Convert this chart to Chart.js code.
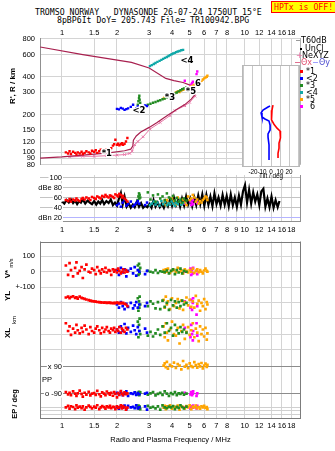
<!DOCTYPE html>
<html><head><meta charset="utf-8">
<script src="https://cdn.jsdelivr.net/npm/chart.js@4.4.1/dist/chart.umd.min.js"></script>
<style>
html,body{margin:0;padding:0;background:#fff;}
body{width:335px;height:451px;position:relative;overflow:hidden;font-family:"Liberation Sans",Arial,sans-serif;}
canvas{position:absolute;}
.t{position:absolute;white-space:pre;line-height:1;color:#000;}
.r{position:absolute;white-space:pre;line-height:1;color:#000;transform:translate(-50%,-50%) rotate(-90deg);}
.mono{font-family:"DejaVu Sans Mono",monospace;font-size:8.2px;}
.lg{font-family:"DejaVu Sans",sans-serif;font-size:8px;}
.sq{position:absolute;width:3px;height:3px;}
.ln{position:absolute;height:1px;}
</style></head><body>
<div class="t mono" style="left:35px;top:8px">TROMSO NORWAY   DYNASONDE 26-07-24 1750UT 15°E</div>
<div class="t mono" style="left:57px;top:15.5px">8pBP6It DoY= 205.743 File= TR100942.BPG</div>
<div class="t mono" style="left:271px;top:1px;width:61px;height:10px;background:#ffff00;border:1px solid #ff0000;color:#ff0000;padding-left:2px;line-height:10px">HPTx is OFF!</div>

<canvas id="cA" width="335" height="154" style="left:0;top:20px"></canvas>
<canvas id="cB" width="335" height="66" style="left:0;top:170px"></canvas>
<canvas id="cC" width="335" height="219" style="left:0;top:232px"></canvas>
<canvas id="cD" width="64" height="117" style="left:240px;top:63px"></canvas>

<div class="r" style="left:13px;top:86px;font-size:8px;font-weight:bold">R', R / km</div>
<div class="r" style="left:8px;top:274px;font-size:8px;font-weight:bold">V*</div>
<div class="r" style="left:12px;top:263px;font-size:5.5px">m/s</div>
<div class="r" style="left:8px;top:296px;font-size:8px;font-weight:bold">YL</div>
<div class="r" style="left:14px;top:320px;font-size:6px">km</div>
<div class="r" style="left:8px;top:333px;font-size:8px;font-weight:bold">XL</div>
<div class="r" style="left:15px;top:404px;font-size:7.5px;font-weight:bold">EP / deg</div>
<div class="t" style="left:42px;top:376px;font-size:7.5px">PP</div>

<div class="ln" style="left:296px;top:40px;width:4px;background:#999"></div>
<div class="t lg" style="left:301px;top:36.5px">T60dB</div>
<div class="sq" style="left:300px;top:48px;width:1.5px;height:1.5px;background:#000"></div>
<div class="t lg" style="left:305px;top:44.5px">UnCl</div>
<div class="t lg" style="left:296px;top:51.5px;color:#e878a8">+</div>
<div class="t lg" style="left:302px;top:51.5px">NeXYZ</div>
<div class="ln" style="left:295px;top:62px;width:5px;background:#e07090"></div>
<div class="t lg" style="left:301px;top:58.5px;color:#e05070">Θx</div>
<div class="ln" style="left:313px;top:62px;width:5px;background:#a0a0ff"></div>
<div class="t lg" style="left:319px;top:58.5px;color:#5050d0">Θy</div>
<div class="sq" style="left:300px;top:70px;background:#ff0000"></div><div class="t lg" style="left:306px;top:67.5px">*1</div>
<div class="sq" style="left:300px;top:77px;background:#0000ff"></div><div class="t lg" style="left:306px;top:74.5px">&lt;2</div>
<div class="sq" style="left:300px;top:84px;background:#228b22"></div><div class="t lg" style="left:306px;top:81.5px">*3</div>
<div class="sq" style="left:300px;top:91px;background:#10a8a8"></div><div class="t lg" style="left:306px;top:88.5px">&lt;4</div>
<div class="sq" style="left:300px;top:98px;background:#ffa500"></div><div class="t lg" style="left:306px;top:95.5px">*5</div>
<div class="sq" style="left:300px;top:105px;background:#ff00ff"></div><div class="t lg" style="left:310px;top:102.5px">6</div>

<script>
// ---------- axis ticks ----------
const freqTicks = [1, 1.5, 2, 3, 4, 5, 6, 7, 8, 10, 12, 14, 16, 18];
const freqTicksDb = [1, 1.5, 2, 3, 4, 5, 6, 7, 8, 9, 10, 12, 14, 16, 18];
const heightTicks = [80, 90, 100, 120, 150, 200, 300, 400, 600, 800];
const dbTicks = [20, 40, 60, 80, 100];
const dbTickLabels = ['dBn 20', '40', '60', 'dBe 80', '100'];
const tiltTicks = [-30, -20, -10, 0, 10, 20, 30];
const tiltTickLabels = ['', '-20', '-10', '0', '10', '20', ''];
const vTicks = [100, 0, -100];      const vTickLabels = ['100', '0', '+-100'];
const ylTicks = [0, -100];          const ylTickLabels = ['0', '+-100'];
const xlTicks = [0, -100];          const xlTickLabels = ['0', '-100'];
const ppTicks = [90, -90];          const ppTickLabels = ['x 90', 'o -90'];
const epTicks = [10, 1, 0.1];       const epTickLabels = ['10.', '', '0.1'];

// ---------- echo traces (frequency MHz, virtual height km, amplitude dB, V*, YL, XL, PP, EP) ----------
const redF  = [1.05,1.08,1.1,1.12,1.15,1.18,1.2,1.22,1.25,1.28,1.3,1.33,1.36,1.4,1.43,1.46,1.5,1.53,1.56,1.6,1.63,1.66,1.7,1.73,1.76,1.8,1.83,1.86,1.9,1.93,1.96,2.0,2.03,2.06,2.1,2.13,2.16,2.2,2.24,2.28];
const redH  = [100,98,102,97,101,99,96,100,98,101,97,99,102,100,98,103,101,104,99,102,105,103,101,106,104,102,105,108,113,116,126,115,117,114,116,118,115,117,122,130];
const redDb = [55,53,57,52,56,54,58,55,53,57,59,56,60,58,55,61,59,57,62,60,58,63,61,65,62,60,64,63,61,59,66,64,62,67,65,60,63,58,55,52];
const redV  = [40,-20,55,10,-30,25,60,-10,5,30,-40,15,45,0,-5,20,10,-15,30,5,-10,15,0,25,-5,10,5,-20,15,0,10,-5,20,5,-10,0,15,-5,10,0];
const redYL = [35,40,30,38,42,33,36,28,40,32,30,26,22,18,15,12,10,8,6,5,4,3,2,3,1,2,0,1,-2,0,-1,2,0,-3,0,-2,0,-5,-10,-20];
const redXL = [70,20,50,-5,35,10,60,25,5,40,15,55,30,0,45,20,10,35,50,25,5,40,15,30,45,20,10,35,25,40,15,30,20,45,10,35,25,15,40,30];
const redPP = [-80,-95,-85,-100,-75,-90,-105,-88,-70,-92,-110,-84,-96,-78,-102,-90,-86,-98,-72,-94,-108,-82,-90,-100,-76,-88,-96,-84,-104,-80,-92,-115,-86,-98,-74,-90,-100,-82,-94,-88];
const redEP = [10,25,4,20,12,3,35,8,15,6,18,2,9,30,13,5,16,8,40,3,9,22,11,4,19,10,28,6,14,12,3,20,7,9,35,5,24,10,2,8];

const blueF  = [2.0,2.05,2.1,2.15,2.2,2.25,2.3,2.38,2.45,2.5,2.55,2.6,2.65,2.85,2.92];
const blueH  = [222,220,226,223,218,221,224,230,239,215,225,232,228,236,234];
const blueDb = [45,48,42,50,55,44,47,52,43,46,49,53,48,45,50];
const blueV  = [10,-20,25,-5,15,-30,5,20,-10,30,-25,10,0,-15,5];
const blueYL = [-10,-30,5,-20,-40,-5,-25,0,-35,-15,5,-30,-10,-20,0];
const blueXL = [30,10,50,20,65,5,40,15,55,25,0,45,20,35,10];
const bluePP = [-85,-95,-80,-100,-90,-75,-105,-88,-92,-82,-98,-86,-94,-90,-84];
const blueEP = [12,4,20,8,30,3,25,9,14,6,35,5,10,18,2];

const greenF  = [2.6,2.62,2.64,2.65,2.66,2.68,2.95,3.05,3.15,3.25,3.35,3.45,3.55,3.65,3.75,3.85,3.95,4.05,4.15,4.25,4.35,4.45,4.55,4.65,4.8];
const greenH  = [240,255,270,282,262,248,240,244,248,252,256,260,265,268,272,278,283,290,295,300,306,312,318,322,330];
const greenDb = [55,62,68,58,65,60,70,56,64,52,66,58,62,55,68,60,57,63,54,59,52,56,50,58,54];
const greenV  = [40,-20,50,10,-10,25,5,0,-5,10,-8,3,0,-3,8,-10,5,15,-15,10,-5,20,-10,5,0];
const greenYL = [30,-50,10,-30,40,-10,-20,10,-5,-35,5,-40,15,-25,0,-45,20,-15,10,-30,5,-20,15,-10,0];
const greenXL = [80,-20,60,20,100,0,-10,15,-15,5,30,-5,50,10,70,20,40,-10,60,25,5,45,15,30,10];
const greenPP = [-85,-95,-78,-100,-90,-82,-96,-88,-80,-102,-92,-85,-98,-75,-90,-105,-86,-94,-80,-100,-88,-92,-84,-96,-90];
const greenEP = [10,30,4,20,12,3,25,8,14,5,18,2,35,9,6,16,10,22,3,13,7,40,12,5,15];

const tealF  = [3.03,3.1,3.18,3.25,3.33,3.42,3.5,3.58,3.66,3.75,3.83,3.9,3.98,4.06,4.14,4.22,4.3,4.4,4.5,4.6];
const tealH  = [486,495,505,515,525,535,545,555,565,575,585,595,605,612,620,628,635,642,650,655];
const tealDb = [45,48,52,46,50,44,53,47,51,45,49,46,52,48,44,50,47,53,46,49];

const orangeF  = [3.6,3.65,3.7,3.75,3.8,3.9,4.0,4.1,4.2,4.3,4.4,4.5,4.6,4.7,4.8,4.9,5.0,5.1,5.2,5.3,5.4,5.5,5.6,5.7,5.8,5.9,6.0,6.1,6.2,6.25];
const orangeH  = [268,275,272,280,285,290,295,292,300,305,302,310,315,318,322,320,328,335,340,345,350,355,360,368,372,380,388,395,400,408];
const orangeDb = [48,52,45,55,50,47,58,53,46,60,52,48,56,50,45,62,55,58,65,60,52,56,48,53,50,55,58,62,60,55];
const orangeV  = [10,-5,15,0,20,-8,5,12,-3,25,0,8,-10,15,5,-5,10,0,20,-8,5,15,-3,10,0,-10,8,20,5,0];
const orangeYL = [20,-30,40,-10,10,-40,30,-20,0,25,-35,15,-45,5,35,-15,20,-25,10,-30,45,-5,15,-50,0,-20,25,-40,5,-10];
const orangeXL = [50,-20,70,10,-40,30,80,0,-10,40,-60,20,60,-30,15,45,-5,25,70,-20,35,10,-45,50,0,30,-15,40,-35,5];
const orangePP = [95,110,85,120,75,100,90,115,80,105,95,70,125,88,100,78,110,92,85,118,98,82,105,90,112,76,95,108,86,100];
const orangeEP = [8,25,3,20,10,40,4,15,9,30,2,18,11,5,22,10,35,3,16,9,30,6,12,4,20,10,28,7,11,3];

const magF  = [4.7,5.05,5.1,5.15,5.2,5.22,5.45,5.5];
const magH  = [372,335,345,355,365,330,420,440];
const magDb = [48,52,45,50,55,47,53,49];
const magV  = [0,20,-20,10,-10,25,5,-15];
const magYL = [10,-30,20,-45,0,30,-75,-20];
const magXL = [40,-20,60,0,-40,20,70,-10];
const magPP = [-85,-95,-80,-100,-90,-75,-105,-88];
const magEP = [10,4,15,20,8,30,5,25];

// ---------- profile / NeXYZ / tilts / unclassified amplitude ----------
const profileF = [0.76,1.0,1.3,1.8,2.2,2.38,2.44,2.46,2.55,2.7,3.0,3.3,3.6,3.9,4.3,4.7,5.1,5.35,5.35,5.1,4.6,4.1,3.7,3.0,2.4,1.3,0.76];
const profileH = [90,92,95,99,103,106,112,125,135,145,158,172,188,203,222,240,265,290,320,340,360,372,388,470,520,600,690];
const nexF = [1.1,1.3,1.5,1.75,2.0,2.2,2.35,2.42,2.5,2.6,2.78,3.03,3.45,3.9,4.15,4.7,5.0,5.35];
const nexH = [92,93,93,94,95,96,98,102,115,122,133,153,173,196,215,235,250,280];
const tiltX  = [2.2,1.1,0,1.1,3.3,6.7,10,11,10,8.9,8.9,7.8,7.8];
const tiltXH = [247,226,207,190,176,164,156,148,138,126,115,105,96.5];
const tiltY  = [-1.1,-3.3,-8.9,-11,-10,-6.7,-2.2,-1,-1,-3.3,-3.3,-2.2,-2.2,-2.2];
const tiltYH = [243,239,226,215,200,193,186,173,159,148,140,122,107,93];
const ucF = [1.00,1.03,1.06,1.09,1.12,1.15,1.18,1.21,1.24,1.27,
  1.30,1.34,1.38,1.42,1.46,1.50,1.54,1.58,1.62,1.66,
  1.70,1.75,1.80,1.85,1.90,1.95,2.00,2.05,2.10,2.15,
  2.20,2.26,2.32,2.38,2.44,2.50,2.57,2.64,2.71,2.78,
  2.85,2.93,3.01,3.09,3.17,3.25,3.34,3.43,3.52,3.61,
  3.70,3.80,3.90,4.00,4.10,4.21,4.32,4.43,4.54,4.66,
  4.78,4.90,5.03,5.16,5.29,5.43,5.57,5.71,5.86,6.01,
  6.17,6.33,6.49,6.66,6.83,7.01,7.19,7.38,7.57,7.77,
  7.97,8.18,8.39,8.61,8.83,9.06,9.30,9.54,9.79,10.04,
  10.30,10.57,10.85,11.13,11.42,11.72,12.02,12.33,12.65,12.98,
  13.32,13.67,14.02,14.39,14.76,15.15,15.50];
const ucDb = [52,48,55,50,56,49,54,47,53,50,
  56,48,54,50,47,53,46,52,48,55,
  47,53,49,56,45,50,44,58,69,47,
  62,42,48,40,46,41,52,42,49,40,
  44,41,47,40,55,42,50,41,48,40,
  52,43,56,44,60,45,55,42,58,44,
  62,46,58,43,60,45,64,47,66,44,
  65,46,62,43,68,47,60,44,65,46,
  63,43,66,45,60,42,64,46,72,84,
  50,75,48,70,52,66,45,72,77,42,
  58,41,62,40,55,41,53];

const echoLabelText = ['*1', '<2', '*3', '<4', '*5', '6'];
const echoLabelF = [1.76, 2.64, 3.9, 4.83, 5.08, 5.55];
const echoLabelH = [98, 215, 270, 531, 306, 354];

// ---------- assemble ----------
const COL = {red:'#ff0000', blue:'#0000ff', green:'#228b22', teal:'#10a8a8', orange:'#ffa500', mag:'#ff00ff'};
const echoes = [
  {c: COL.red, f: redF, h: redH, db: redDb, v: redV, yl: redYL, xl: redXL, pp: redPP, ep: redEP},
  {c: COL.blue, f: blueF, h: blueH, db: blueDb, v: blueV, yl: blueYL, xl: blueXL, pp: bluePP, ep: blueEP},
  {c: COL.green, f: greenF, h: greenH, db: greenDb, v: greenV, yl: greenYL, xl: greenXL, pp: greenPP, ep: greenEP},
  {c: COL.teal, f: tealF, h: tealH, db: tealDb},
  {c: COL.orange, f: orangeF, h: orangeH, db: orangeDb, v: orangeV, yl: orangeYL, xl: orangeXL, pp: orangePP, ep: orangeEP},
  {c: COL.mag, f: magF, h: magH, db: magDb, v: magV, yl: magYL, xl: magXL, pp: magPP, ep: magEP}
];
const pts = (xs, ys) => xs.map((x, i) => ({x: x, y: ys[i]}));
const F_MIN = 0.758, F_MAX = 20.33;

Chart.defaults.font.family = "'Liberation Sans', Arial, sans-serif";
Chart.defaults.font.size = 7.5;
Chart.defaults.color = '#000';
Chart.defaults.animation = false;
Chart.defaults.responsive = false;
Chart.defaults.devicePixelRatio = 1;
Chart.defaults.plugins.legend.display = false;
Chart.defaults.plugins.tooltip.enabled = false;

const GRID = '#d4d4d4';
function fAxis(position, ticks, o) {
  return {
    type: 'logarithmic', position: position, min: F_MIN, max: F_MAX,
    afterBuildTicks: s => { s.ticks = ticks.map(v => ({value: v})); },
    afterFit: s => { s.height = o.height; },
    ticks: {display: o.labels !== false, autoSkip: false, maxRotation: 0, minRotation: 0, padding: o.pad,
      callback: (v, i) => String(ticks[i])},
    grid: {color: GRID, drawTicks: false},
    border: {display: false},
    title: o.title || {display: false}
  };
}
function vAxis(type, min, max, ticks, labels, o) {
  o = o || {};
  return {
    type: type, position: 'left', min: min, max: max, weight: o.weight || 0,
    afterBuildTicks: s => { s.ticks = ticks.map(v => ({value: v})); },
    afterFit: s => { s.width = o.width || 0; },
    ticks: {display: o.labels !== false, autoSkip: false, padding: o.pad || 5, callback: (v, i) => labels[i]},
    grid: {color: o.grid || GRID, drawTicks: false},
    border: {display: !!o.border, color: '#909090'}
  };
}

const framePlugin = {
  id: 'frame',
  beforeDraw(chart, args, opts) {
    if (!opts.fill) return;
    const a = chart.chartArea, ctx = chart.ctx;
    ctx.save(); ctx.fillStyle = opts.fill; ctx.fillRect(a.left, a.top, a.right - a.left, a.bottom - a.top); ctx.restore();
  },
  afterDraw(chart, args, opts) {
    if (!opts.sides) return;
    const a = chart.chartArea, ctx = chart.ctx;
    const L = Math.round(a.left) + 0.5, R = Math.round(a.right) - 0.5, T = Math.round(a.top) + 0.5, B = Math.round(a.bottom) - 0.5;
    ctx.save(); ctx.strokeStyle = opts.color || '#808080'; ctx.lineWidth = 1; ctx.beginPath();
    if (opts.sides.includes('l')) { ctx.moveTo(L, a.top); ctx.lineTo(L, a.bottom); }
    if (opts.sides.includes('r')) { ctx.moveTo(R, a.top); ctx.lineTo(R, a.bottom); }
    if (opts.sides.includes('t')) { ctx.moveTo(a.left, T); ctx.lineTo(a.right, T); }
    if (opts.sides.includes('b')) { ctx.moveTo(a.left, B); ctx.lineTo(a.right, B); }
    ctx.stroke(); ctx.restore();
  }
};
const innerLabelPlugin = {
  id: 'innerLabels',
  afterDraw(chart, args, opts) {
    if (!opts.axis) return;
    const sc = chart.scales[opts.axis], ctx = chart.ctx, a = chart.chartArea;
    ctx.save(); ctx.font = "7.5px 'Liberation Sans', Arial, sans-serif"; ctx.textAlign = 'right'; ctx.textBaseline = 'middle';
    opts.values.forEach((v, i) => {
      const y = sc.getPixelForValue(v), x = a.left + opts.dx, w = ctx.measureText(opts.labels[i]).width;
      ctx.fillStyle = '#fff'; ctx.fillRect(x - w - 1, y - 4, w + 2, 8);
      ctx.fillStyle = '#000'; ctx.fillText(opts.labels[i], x, y + 0.5);
    });
    ctx.restore();
  }
};
const echoLabelPlugin = {
  id: 'echoLabels',
  afterDatasetsDraw(chart) {
    const ctx = chart.ctx, xs = chart.scales.x, ys = chart.scales.y;
    ctx.save(); ctx.font = "bold 8.5px 'DejaVu Sans', sans-serif"; ctx.textAlign = 'center'; ctx.textBaseline = 'middle';
    ctx.lineJoin = 'round';
    echoLabelText.forEach((t, i) => {
      const x = xs.getPixelForValue(echoLabelF[i]), y = ys.getPixelForValue(echoLabelH[i]);
      ctx.strokeStyle = '#fff'; ctx.lineWidth = 2.5; ctx.strokeText(t, x, y);
      ctx.fillStyle = '#000'; ctx.fillText(t, x, y);
    });
    ctx.restore();
  }
};

// ---------- chart A: ionogram heights ----------
const dsA = [];
echoes.forEach(e => dsA.push({data: pts(e.f, e.h), backgroundColor: e.c, borderColor: e.c, pointStyle: 'rect', pointRadius: 1.7, borderWidth: 0, order: 1}));
dsA.push({data: pts(nexF, nexH), showLine: true, borderColor: '#e878a8', backgroundColor: '#e878a8', borderWidth: 1, pointStyle: 'crossRot', pointRadius: 1.8, pointBorderWidth: 1, order: 6});
dsA.push({data: pts(profileF, profileH), showLine: true, borderColor: '#a8204f', borderWidth: 1.2, pointRadius: 0, order: 5});
new Chart(document.getElementById('cA'), {
  type: 'scatter',
  data: {datasets: dsA},
  options: {
    layout: {padding: {left: 0, right: 34, top: 0, bottom: 1.5}},
    scales: {
      x: fAxis('top', freqTicks, {height: 18, pad: 1}),
      y: vAxis('logarithmic', 80, 814, heightTicks, heightTicks.map(String), {width: 40, border: true})
    },
    plugins: {frame: {sides: 'r', color: '#b0b0b0'}}
  },
  plugins: [framePlugin, echoLabelPlugin]
});

// ---------- chart B: amplitudes ----------
const dsB = [];
echoes.forEach(e => dsB.push({data: pts(e.f, e.db), backgroundColor: e.c, borderColor: e.c, pointStyle: 'rect', pointRadius: 1.8, borderWidth: 0, order: 1}));
dsB.push({data: pts(ucF, ucDb), showLine: true, borderColor: '#000', borderWidth: 2.2, pointRadius: 0, order: 5});
const dbAxis = vAxis('linear', 12, 104, dbTicks, dbTickLabels, {width: 40, labels: false});
dbAxis.grid.color = ctx => (ctx.tick && ctx.tick.value === 20) ? '#b4b4ff' : '#c4c4c4';
new Chart(document.getElementById('cB'), {
  type: 'scatter',
  data: {datasets: dsB},
  options: {
    layout: {padding: {left: 0, right: 34, top: 5, bottom: 0}},
    scales: {x: fAxis('bottom', freqTicksDb, {height: 14, pad: 3}), y: dbAxis},
    plugins: {frame: {sides: 'rb', color: '#909090'}, innerLabels: {axis: 'y', values: dbTicks, labels: dbTickLabels, dx: 22}}
  },
  plugins: [framePlugin, innerLabelPlugin]
});

// ---------- chart C: V*, YL, XL, PP, EP ----------
const dsC = [];
const panels = [['v', 'yV'], ['yl', 'yYL'], ['xl', 'yXL'], ['pp', 'yPP'], ['ep', 'yEP']];
echoes.forEach(e => panels.forEach(p => {
  if (e[p[0]]) dsC.push({data: pts(e.f, e[p[0]]), yAxisID: p[1], backgroundColor: e.c, borderColor: e.c, pointStyle: 'rect', pointRadius: 1.9, borderWidth: 0});
}));
new Chart(document.getElementById('cC'), {
  type: 'scatter',
  data: {datasets: dsC},
  options: {
    layout: {padding: {left: 0, right: 34, top: 0.5, bottom: 0}},
    scales: {
      x: fAxis('bottom', freqTicks, {height: 32, pad: 2,
        title: {display: true, text: 'Radio and Plasma Frequency / MHz', font: {size: 7.5}, padding: {top: 0, bottom: 7}}}),
      yV: vAxis('linear', -943.75, 193.75, vTicks, vTickLabels, {width: 40, weight: 5}),
      yYL: vAxis('linear', -743.75, 393.75, ylTicks, ylTickLabels),
      yXL: vAxis('linear', -543.75, 593.75, xlTicks, xlTickLabels),
      yPP: vAxis('linear', -257.14, 912.86, ppTicks, ppTickLabels, {labels: false, grid: '#8c8c8c'}),
      yEP: vAxis('logarithmic', 3.728e-3, 3.728e49, epTicks, epTickLabels, {grid: '#d0d0d0'})
    },
    plugins: {frame: {sides: 'lrtb', color: '#7c7c7c'}, innerLabels: {axis: 'yPP', values: ppTicks, labels: ppTickLabels, dx: 22}}
  },
  plugins: [framePlugin, innerLabelPlugin]
});

// ---------- chart D: tilt inset ----------
new Chart(document.getElementById('cD'), {
  type: 'scatter',
  data: {datasets: [
    {data: pts(tiltY, tiltYH), showLine: true, borderColor: '#0000ff', borderWidth: 1.6, pointRadius: 0},
    {data: pts(tiltX, tiltXH), showLine: true, borderColor: '#ff0000', borderWidth: 1.6, pointRadius: 0}
  ]},
  options: {
    layout: {padding: {left: 2, right: 4, top: 2, bottom: 0}},
    scales: {
      x: {type: 'linear', min: -32.2, max: 32.2,
        afterBuildTicks: s => { s.ticks = tiltTicks.map(v => ({value: v})); },
        afterFit: s => { s.height = 13; },
        ticks: {autoSkip: false, maxRotation: 0, padding: 1, font: {size: 6.3}, callback: (v, i) => tiltTickLabels[i]},
        grid: {color: '#c8c8c8', drawTicks: false}, border: {display: false},
        title: {display: true, text: 'Tilt / deg', font: {size: 6.3}, padding: {top: 0, bottom: 0}}},
      y: {type: 'logarithmic', min: 82.3, max: 504, display: false}
    },
    plugins: {frame: {fill: '#ffffff', sides: 'lrtb', color: '#b8b8b8'}}
  },
  plugins: [framePlugin]
});
</script>
</body></html>
